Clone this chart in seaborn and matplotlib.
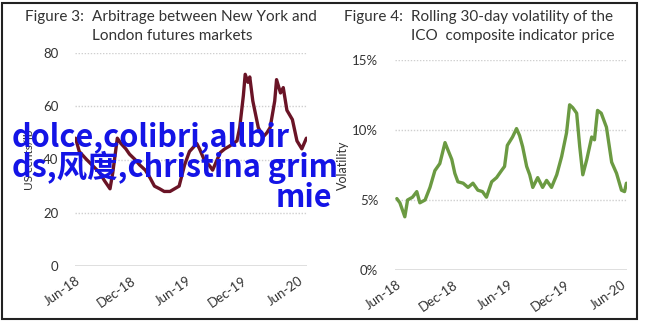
import matplotlib
matplotlib.use("Agg")
import matplotlib.pyplot as plt
import matplotlib.dates as mdates
import matplotlib.ticker as mticker
import pandas as pd
import seaborn as sns

# ---- data: Figure 3 (US cents/lb) ----
arb_dates = ["2018-06-01", "2018-06-13", "2018-07-07", "2018-08-02", "2018-08-19", "2018-09-04",
             "2018-09-22", "2018-10-01", "2018-10-16", "2018-10-28", "2018-11-13", "2018-11-25",
             "2018-12-13", "2018-12-28", "2019-01-16", "2019-02-01", "2019-02-15", "2019-03-04",
             "2019-03-19", "2019-04-07", "2019-04-22", "2019-05-07", "2019-05-25", "2019-06-10",
             "2019-07-04", "2019-07-13", "2019-07-28", "2019-08-16", "2019-08-25", "2019-09-19",
             "2019-10-04", "2019-10-19", "2019-11-13", "2019-11-22", "2019-12-04", "2019-12-10",
             "2019-12-19", "2019-12-25", "2020-01-04", "2020-01-22", "2020-02-07", "2020-02-19",
             "2020-03-01", "2020-03-16", "2020-03-22", "2020-04-04", "2020-04-13", "2020-04-25",
             "2020-05-13", "2020-05-28", "2020-06-13", "2020-06-28"]
arb_values = [48, 43, 40, 37, 35, 32,
              29, 35, 48, 46, 44, 42,
              40, 38, 36, 33, 30, 29,
              28, 28, 29, 30, 38, 43,
              46, 44, 40, 37.5, 36, 42.6,
              44, 45, 47, 52, 64, 72,
              69, 71, 62, 52, 48.5, 50,
              52, 62, 70, 65, 67, 58.5,
              55, 47, 44, 48]

# ---- data: Figure 4 (volatility, %) ----
vol_dates = ["2018-06-01", "2018-06-11", "2018-06-27", "2018-07-06", "2018-07-22", "2018-08-05",
             "2018-08-15", "2018-09-01", "2018-09-17", "2018-10-03", "2018-10-19", "2018-11-05",
             "2018-11-14", "2018-11-27", "2018-12-07", "2018-12-17", "2019-01-03", "2019-01-19",
             "2019-02-04", "2019-02-20", "2019-03-07", "2019-03-20", "2019-04-06", "2019-04-22",
             "2019-05-08", "2019-05-18", "2019-05-27", "2019-06-13", "2019-06-26", "2019-07-06",
             "2019-07-16", "2019-07-29", "2019-08-08", "2019-08-18", "2019-09-03", "2019-09-19",
             "2019-10-02", "2019-10-18", "2019-11-04", "2019-11-20", "2019-12-06", "2019-12-16",
             "2019-12-26", "2020-01-08", "2020-01-18", "2020-01-28", "2020-02-10", "2020-02-26",
             "2020-03-06", "2020-03-16", "2020-03-28", "2020-04-14", "2020-05-01", "2020-05-17",
             "2020-06-02", "2020-06-12", "2020-06-18"]
vol_values = [5.1, 4.8, 3.8, 5.0, 5.2, 5.6,
              4.8, 5.0, 5.9, 7.1, 7.6, 9.1,
              8.6, 7.9, 6.9, 6.3, 6.2, 5.9,
              6.2, 5.7, 5.6, 5.2, 6.3, 6.6,
              7.1, 7.4, 8.9, 9.5, 10.1, 9.6,
              8.8, 7.4, 6.8, 5.9, 6.6, 5.9,
              6.4, 5.9, 6.8, 8.1, 9.8, 11.8,
              11.6, 11.2, 8.8, 6.8, 7.9, 9.5,
              9.3, 11.4, 11.2, 10.2, 7.7, 6.9,
              5.7, 5.6, 6.2]

tick_dates = ["2018-06-01", "2018-12-01", "2019-06-01", "2019-12-01", "2020-06-01"]
tick_labels = ["Jun-18", "Dec-18", "Jun-19", "Dec-19", "Jun-20"]
left_yticks = [0, 20, 40, 60, 80]
right_yticks = [0, 5, 10, 15]

title3_head, title3_l1, title3_l2 = "Figure 3:  ", "Arbitrage between New York and", "London futures markets"
title4_head, title4_l1, title4_l2 = "Figure 4:  ", "Rolling 30-day volatility of the", "ICO  composite indicator price"
overlay_lines = ["dolce,colibri,allbir", "ds,风度,christina grim", "mie"]

df_arb = pd.DataFrame({"date": pd.to_datetime(arb_dates), "value": arb_values})
df_vol = pd.DataFrame({"date": pd.to_datetime(vol_dates), "value": vol_values})

sns.set_style("white")
plt.rcParams["font.family"] = ["Lato", "DejaVu Sans"]

TXT = "#333333"
fig = plt.figure(figsize=(6.45, 3.23), dpi=100)

axL = fig.add_axes([75/645, 1-266/323, 232/645, 213/323])
axR = fig.add_axes([395/645, 1-270/323, 232/645, 210/323])

sns.lineplot(data=df_arb, x="date", y="value", ax=axL, color="#6a1426", linewidth=2.4)
sns.lineplot(data=df_vol, x="date", y="value", ax=axR, color="#6b9a42", linewidth=2.4)

ticks = pd.to_datetime(tick_dates)
for ax, yt, lim, xl in [(axL, left_yticks, (0, 80), ("2018-05-30", "2020-06-30")),
                        (axR, right_yticks, (0, 15), ("2018-05-26", "2020-06-20"))]:
    ax.set_ylim(*lim)
    ax.set_xlim(pd.Timestamp(xl[0]), pd.Timestamp(xl[1]))
    ax.set_yticks(yt)
    ax.set_xticks(ticks)
    ax.set_xticklabels(tick_labels, rotation=35, ha="right", rotation_mode="anchor")
    for s in ax.spines.values():
        s.set_visible(False)
    ax.tick_params(axis="both", length=0, labelsize=9.5, labelcolor=TXT)
    ax.tick_params(axis="y", pad=12)
    ax.tick_params(axis="x", pad=6)
    ax.set_xlabel("")
    for v in yt:
        if v == 0:
            ax.axhline(v, color="#d9d9d9", lw=1.2, zorder=0)
        else:
            ax.axhline(v, color="#cfcfcf", lw=1.0, ls=(0, (1, 1.2)), zorder=0)
    ax.set_facecolor("none")

axR.yaxis.set_major_formatter(mticker.FuncFormatter(lambda v, p: f"{v:.0f}%"))
axL.set_ylabel("US cents/lb", fontsize=8.5, color=TXT, labelpad=6)
axR.set_ylabel("Volatility", fontsize=9, color=TXT, labelpad=2)

# titles
fig.canvas.draw()
r = fig.canvas.get_renderer()
for x0, head, l1, l2 in [(25, title3_head, title3_l1, title3_l2),
                         (344, title4_head, title4_l1, title4_l2)]:
    th = fig.text(x0/645, 1-21/323, head, fontsize=11, color=TXT, va="baseline", ha="left")
    bb = th.get_window_extent(r)
    xs = bb.x1 / fig.bbox.width
    fig.text(xs, 1-21/323, l1, fontsize=11, color=TXT, va="baseline", ha="left")
    fig.text(xs, 1-40/323, l2, fontsize=11, color=TXT, va="baseline", ha="left")

# overlay text
ov = dict(fontsize=22, color="#1414e6", fontweight="bold", va="baseline",
          family=["Noto Sans CJK SC", "DejaVu Sans"], zorder=10)
fig.text(12/645, 1-146/323, overlay_lines[0], ha="left", **ov)
fig.text(12/645, 1-177/323, overlay_lines[1], ha="left", **ov)
fig.text(332/645, 1-207/323, overlay_lines[2], ha="right", **ov)

# outer frame
fig.add_artist(plt.Rectangle((2/645, 4/323), 635/645, 316/323, transform=fig.transFigure,
                             fill=False, edgecolor="#222222", lw=1.5))

fig.savefig("out.png", dpi=100)
